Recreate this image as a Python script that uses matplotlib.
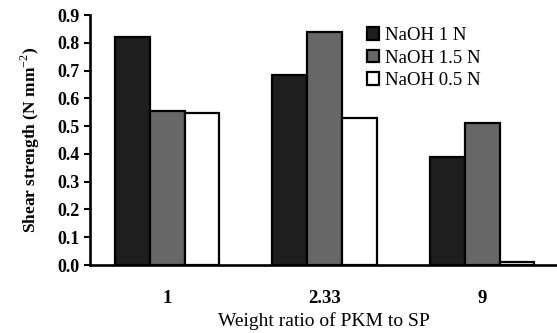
import numpy as np
import matplotlib
matplotlib.use('Agg')
import matplotlib.pyplot as plt
from matplotlib.ticker import FormatStrFormatter

# Data
ratios = ['1', '2.33', '9']
naoh_1 = [0.82, 0.685, 0.39]
naoh_15 = [0.555, 0.84, 0.51]
naoh_05 = [0.548, 0.53, 0.012]
series = [('NaOH 1 N', naoh_1, '#1e1e1e'),
          ('NaOH 1.5 N', naoh_15, '#676767'),
          ('NaOH 0.5 N', naoh_05, '#ffffff')]

plt.rcParams['font.family'] = ['Liberation Serif', 'DejaVu Serif']
plt.rcParams['mathtext.fontset'] = 'custom'
plt.rcParams['mathtext.rm'] = 'Liberation Serif'
plt.rcParams['mathtext.bf'] = 'Liberation Serif:bold'

fig = plt.figure(figsize=(5.57, 3.33), dpi=100)
ax = fig.add_axes([90 / 557, 68 / 333, 467 / 557, 250 / 333])

x = np.arange(len(ratios))
width = 0.222
for i, (label, vals, color) in enumerate(series):
    ax.bar(x + (i - 1) * width, vals, width, color=color, edgecolor='black',
           linewidth=1.6, label=label)

ax.set_xlim(-0.489, 2.476)
ax.set_ylim(0, 0.9)
ax.set_yticks(np.arange(0, 0.91, 0.1))
ax.yaxis.set_major_formatter(FormatStrFormatter('%.1f'))
ax.set_xticks(x)
ax.set_xticklabels(ratios)

for s in ['top', 'right']:
    ax.spines[s].set_visible(False)
for s in ['left', 'bottom']:
    ax.spines[s].set_linewidth(1.9)

ax.tick_params(axis='y', length=4.5, width=1.5, pad=3, labelsize=13)
ax.tick_params(axis='x', length=0, pad=18, labelsize=13.5)
for t in ax.get_xticklabels() + ax.get_yticklabels():
    t.set_fontweight('bold')

ax.set_ylabel(r'Shear strength (N mm$^{-2}$)', fontsize=12.5, fontweight='bold', labelpad=11)
ax.set_xlabel('Weight ratio of PKM to SP', fontsize=14, labelpad=3.5)

ax.legend(loc='upper left', bbox_to_anchor=(367 / 557, 1 - 27 / 333),
          bbox_transform=fig.transFigure, frameon=False, fontsize=13.5,
          handlelength=0.65, handleheight=0.65, handletextpad=0.3,
          labelspacing=0.3, borderpad=0, borderaxespad=0)

fig.savefig('out.png', dpi=100)
